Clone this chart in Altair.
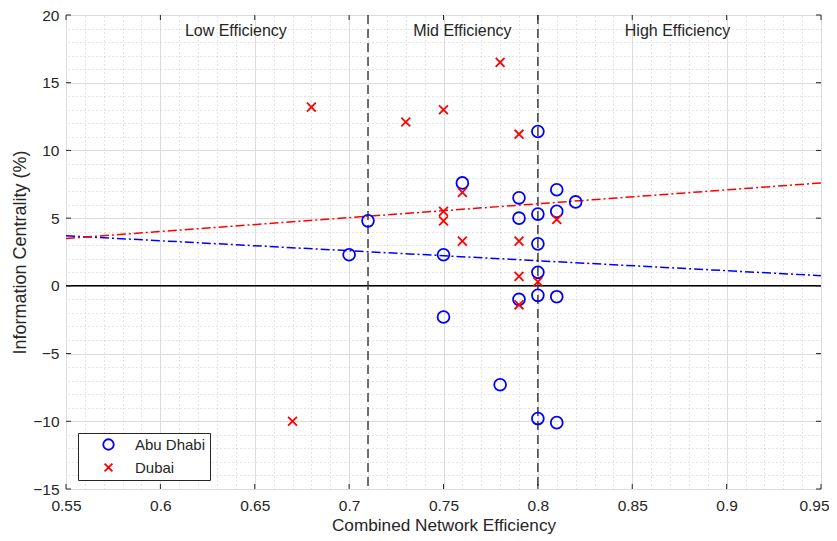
import altair as alt
import pandas as pd

# ---- data ----
abu_x = [0.70, 0.71, 0.75, 0.75, 0.76, 0.78, 0.79, 0.79, 0.79, 0.80,
         0.80, 0.80, 0.80, 0.80, 0.80, 0.81, 0.81, 0.81, 0.81, 0.82]
abu_y = [2.3, 4.8, 2.3, -2.3, 7.6, -7.3, 6.5, 5.0, -1.0, 11.4,
         5.3, 3.1, 1.0, -0.7, -9.8, 7.1, 5.5, -0.8, -10.1, 6.2]
dub_x = [0.67, 0.68, 0.73, 0.75, 0.75, 0.75, 0.76, 0.76, 0.78, 0.79,
         0.79, 0.79, 0.79, 0.80, 0.81]
dub_y = [-10.0, 13.2, 12.1, 13.0, 5.5, 4.8, 6.9, 3.3, 16.5, 11.2,
         3.3, 0.7, -1.4, 0.3, 4.9]
trend_x = [0.55, 0.95]
abu_trend = [3.7, 0.75]
dub_trend = [3.5, 7.6]
bounds = [0.71, 0.80]
region_x = [0.64, 0.76, 0.874]
region_y = [18.8, 18.8, 18.8]
region_labels = ["Low Efficiency", "Mid Efficiency", "High Efficiency"]
x_ticks = [0.55, 0.6, 0.65, 0.7, 0.75, 0.8, 0.85, 0.9, 0.95]
y_ticks = [-15, -10, -5, 0, 5, 10, 15, 20]
x_minor = [round(0.55 + 0.01 * i, 2) for i in range(41)]
y_minor = list(range(-15, 21))

W, H = 755, 474
FONT = "Liberation Sans"
TXT = "#262626"

pts = pd.DataFrame({
    "x": abu_x + dub_x,
    "y": abu_y + dub_y,
    "city": ["Abu Dhabi"] * len(abu_x) + ["Dubai"] * len(dub_x),
})
trend_df = pd.DataFrame({"x": trend_x, "ad": abu_trend, "db": dub_trend})
bounds_df = pd.DataFrame({"x": bounds})
region_df = pd.DataFrame({"x": region_x, "y": region_y, "t": region_labels})
xt_df = pd.DataFrame({"x": x_ticks})
yt_df = pd.DataFrame({"y": y_ticks})
zero_df = pd.DataFrame({"y": [0]})

xscale = alt.Scale(domain=[0.55, 0.95], nice=False, zero=False)
yscale = alt.Scale(domain=[-15, 20], nice=False, zero=False)

xaxis = alt.Axis(values=x_ticks, format=".2~f", title="Combined Network Efficiency",
                 grid=True, gridColor="#dcdcdc", gridWidth=1, ticks=False, domain=False,
                 labelFont=FONT, labelFontSize=15.5, labelColor=TXT, labelPadding=9,
                 labelOffset={"condition": {"test": "datum.value >= 0.949", "value": -7}, "value": 0},
                 titleFont=FONT, titleFontSize=17.2, titleColor=TXT, titleFontWeight="normal",
                 titlePadding=3, labelFlush=False)
yaxis = alt.Axis(values=y_ticks, format="~g", title="Information Centrality (%)",
                 grid=True, gridColor="#dcdcdc", gridWidth=1, ticks=False, domain=False,
                 labelFont=FONT, labelFontSize=15.5, labelColor=TXT, labelPadding=7,
                 titleFont=FONT, titleFontSize=18, titleColor=TXT, titleFontWeight="normal",
                 titlePadding=3, labelFlush=False)


def X(f):
    return alt.X(f, type="quantitative", scale=xscale, axis=xaxis)


def Y(f):
    return alt.Y(f, type="quantitative", scale=yscale, axis=yaxis)


# minor grid layer (own axes, no labels)
minor = alt.Chart(pts).mark_point(opacity=0).encode(
    x=alt.X("x:Q", scale=xscale,
            axis=alt.Axis(orient="top", values=x_minor, grid=True, gridDash=[1, 3],
                          gridColor="#c8c8c8", labels=False, ticks=False, domain=False, title=None)),
    y=alt.Y("y:Q", scale=yscale,
            axis=alt.Axis(orient="right", values=y_minor, grid=True, gridDash=[1, 3],
                          gridColor="#c8c8c8", labels=False, ticks=False, domain=False, title=None)),
)

X_PATH = "M-0.75,-0.75L0.75,0.75M-0.75,0.75L0.75,-0.75"

points = alt.Chart(pts).mark_point(filled=False, size=140, strokeWidth=1.8, opacity=1).encode(
    x=X("x"), y=Y("y"),
    color=alt.Color("city:N", scale=alt.Scale(domain=["Abu Dhabi", "Dubai"], range=["#0000ff", "#ff0000"]),
                    legend=alt.Legend(title=None, orient="none", legendX=12, legendY=418,
                                      fillColor="white", strokeColor="#262626", padding=4,
                                      cornerRadius=0, labelFont=FONT, labelFontSize=15,
                                      labelColor=TXT, symbolOffset=19, labelOffset=19,
                                      rowPadding=5, symbolStrokeWidth=1.8, symbolSize=110)),
    shape=alt.Shape("city:N", scale=alt.Scale(domain=["Abu Dhabi", "Dubai"], range=["circle", X_PATH]),
                    legend=alt.Legend(title=None, orient="none", legendX=12, legendY=418)),
)

zero = alt.Chart(zero_df).mark_rule(color="black", strokeWidth=1.5).encode(y=Y("y"))
vlines = alt.Chart(bounds_df).mark_rule(color="#404040", strokeWidth=1.5, strokeDash=[9, 5]).encode(x=X("x"))
ad_line = alt.Chart(trend_df).mark_line(color="#0000ff", strokeWidth=1.5, strokeDash=[9, 3, 2, 3]).encode(
    x=X("x"), y=Y("ad"))
db_line = alt.Chart(trend_df).mark_line(color="#ff0000", strokeWidth=1.5, strokeDash=[9, 3, 2, 3]).encode(
    x=X("x"), y=Y("db"))
regions = alt.Chart(region_df).mark_text(font=FONT, fontSize=16, color=TXT).encode(
    x=X("x"), y=Y("y"), text="t:N")

xt_bot = alt.Chart(xt_df).mark_rule(color=TXT).encode(x=X("x"), y=alt.value(H), y2=alt.value(H - 5))
xt_top = alt.Chart(xt_df).mark_rule(color=TXT).encode(x=X("x"), y=alt.value(0), y2=alt.value(5))
yt_left = alt.Chart(yt_df).mark_rule(color=TXT).encode(y=Y("y"), x=alt.value(0), x2=alt.value(5))
yt_right = alt.Chart(yt_df).mark_rule(color=TXT).encode(y=Y("y"), x=alt.value(W), x2=alt.value(W - 5))

inner = alt.layer(zero, vlines, ad_line, db_line, points, regions, xt_bot, xt_top, yt_left, yt_right)

chart = alt.layer(minor, inner).resolve_axis(x="independent", y="independent").properties(
    width=W, height=H,
    autosize=alt.AutoSizeParams(type="none"),
    padding={"left": 58, "top": 7, "right": 8, "bottom": 48},
).configure_view(stroke=TXT, strokeWidth=1).configure(background="white")

chart.save("out.html", embed_options={"renderer": "svg", "actions": False})
